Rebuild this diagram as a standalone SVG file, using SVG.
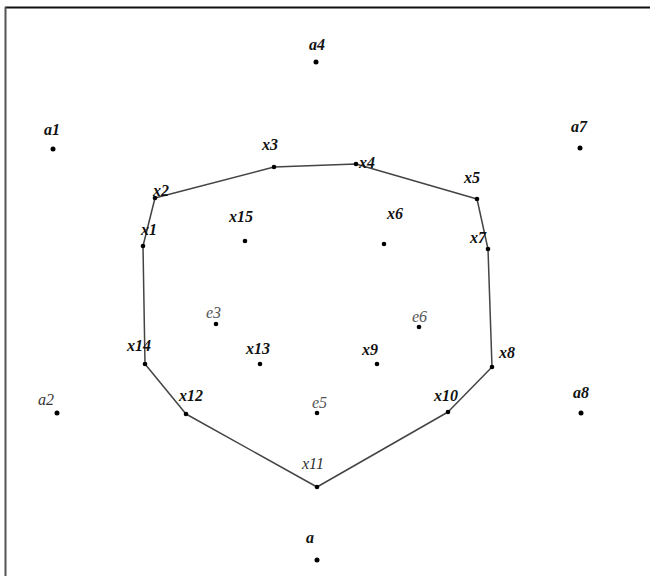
<svg xmlns="http://www.w3.org/2000/svg" width="650" height="576" viewBox="0 0 650 576">
<style>
.lbl{font-family:"Liberation Serif","Times New Roman",serif;font-style:italic;font-weight:bold;font-size:16px;fill:#111}
.lt{font-weight:normal;fill:#333}
.gr{font-weight:normal;fill:#555}
.dot{fill:#000}
.edge{fill:none;stroke:#444;stroke-width:1.5;stroke-linejoin:round}
</style>
<rect width="650" height="576" fill="#fff"/>
<g id="frame">
<line x1="5" y1="7.5" x2="650" y2="7.5" stroke="#111" stroke-width="2"/>
<line x1="5.5" y1="7" x2="5.5" y2="576" stroke="#555" stroke-width="2"/>
</g>
<g id="connectors">
<polygon class="edge" points="155,198 274,167 356,164 477,199 488,249 492,367 448,412 317,487 186,414 145,364 143,246"/>
</g>
<g id="a4"><circle class="dot" cx="316" cy="62" r="2.5"/><text class="lbl" x="309" y="50">a4</text></g>
<g id="a1"><circle class="dot" cx="53" cy="149" r="2.5"/><text class="lbl" x="44" y="135">a1</text></g>
<g id="a7"><circle class="dot" cx="580" cy="148" r="2.5"/><text class="lbl" x="571" y="132">a7</text></g>
<g id="a2"><circle class="dot" cx="57" cy="413" r="2.5"/><text class="lbl lt" x="38" y="405">a2</text></g>
<g id="a8"><circle class="dot" cx="581" cy="413" r="2.5"/><text class="lbl" x="573" y="398">a8</text></g>
<g id="a"><circle class="dot" cx="317" cy="560" r="2.5"/><text class="lbl" x="306" y="543">a</text></g>
<g id="x1"><circle class="dot" cx="143" cy="246" r="2.3"/><text class="lbl" x="141" y="235">x1</text></g>
<g id="x2"><circle class="dot" cx="155" cy="198" r="2.3"/><text class="lbl" x="153" y="196">x2</text></g>
<g id="x3"><circle class="dot" cx="274" cy="167" r="2.3"/><text class="lbl" x="262" y="150">x3</text></g>
<g id="x4"><circle class="dot" cx="356" cy="164" r="2.3"/><text class="lbl" x="359" y="168">x4</text></g>
<g id="x5"><circle class="dot" cx="477" cy="199" r="2.3"/><text class="lbl" x="464" y="183">x5</text></g>
<g id="x6"><circle class="dot" cx="384" cy="244" r="2.3"/><text class="lbl" x="387" y="219">x6</text></g>
<g id="x7"><circle class="dot" cx="488" cy="249" r="2.3"/><text class="lbl" x="470" y="243">x7</text></g>
<g id="x8"><circle class="dot" cx="492" cy="367" r="2.3"/><text class="lbl" x="499" y="358">x8</text></g>
<g id="x9"><circle class="dot" cx="377" cy="364" r="2.3"/><text class="lbl" x="362" y="355">x9</text></g>
<g id="x10"><circle class="dot" cx="448" cy="412" r="2.3"/><text class="lbl" x="434" y="401">x10</text></g>
<g id="x11"><circle class="dot" cx="317" cy="487" r="2.3"/><text class="lbl lt" x="302" y="469">x11</text></g>
<g id="x12"><circle class="dot" cx="186" cy="414" r="2.3"/><text class="lbl" x="179" y="401">x12</text></g>
<g id="x13"><circle class="dot" cx="260" cy="364" r="2.3"/><text class="lbl" x="246" y="354">x13</text></g>
<g id="x14"><circle class="dot" cx="145" cy="364" r="2.3"/><text class="lbl" x="127" y="351">x14</text></g>
<g id="x15"><circle class="dot" cx="245" cy="241" r="2.3"/><text class="lbl" x="229" y="222">x15</text></g>
<g id="e3"><circle class="dot" cx="216" cy="324" r="2.3"/><text class="lbl gr" x="206" y="318">e3</text></g>
<g id="e6"><circle class="dot" cx="419" cy="327" r="2.3"/><text class="lbl gr" x="412" y="322">e6</text></g>
<g id="e5"><circle class="dot" cx="317" cy="413" r="2.3"/><text class="lbl gr" x="312" y="408" fill="#567">e5</text></g>
</svg>
